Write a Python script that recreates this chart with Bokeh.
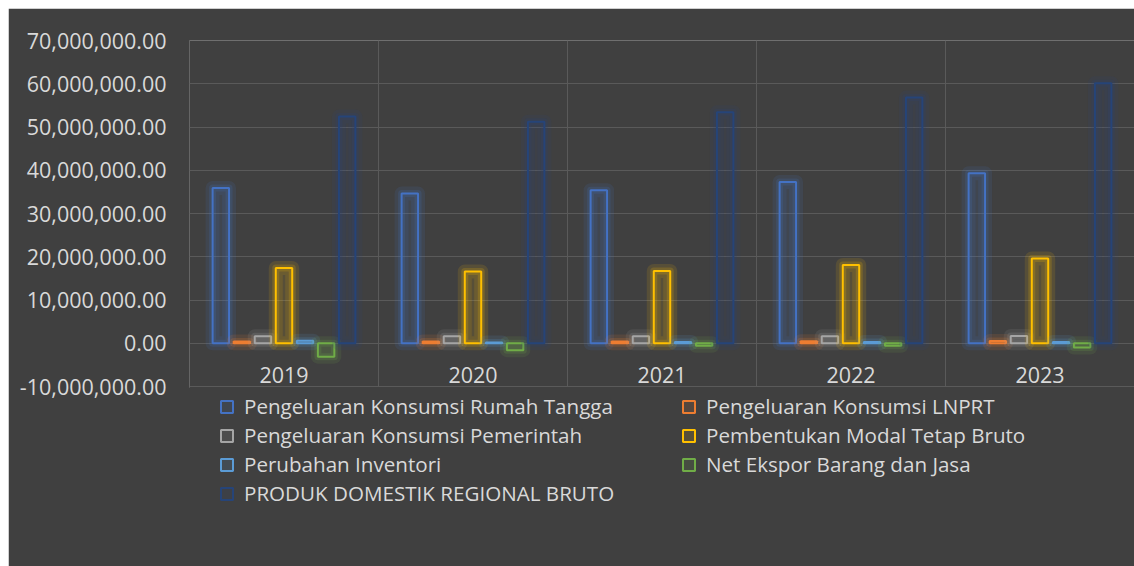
from bokeh.plotting import figure
from bokeh.models import (ColumnDataSource, Range1d, FixedTicker, NumeralTickFormatter,
                          Legend, LegendItem)
from bokeh.core.properties import value
from bokeh.embed import file_html
from bokeh.resources import INLINE

years = ["2019", "2020", "2021", "2022", "2023"]

series_names = [
    "Pengeluaran Konsumsi Rumah Tangga",
    "Pengeluaran Konsumsi LNPRT",
    "Pengeluaran Konsumsi Pemerintah",
    "Pembentukan Modal Tetap Bruto",
    "Perubahan Inventori",
    "Net Ekspor Barang dan Jasa",
    "PRODUK DOMESTIK REGIONAL BRUTO",
]

rumah_tangga = [35900000, 34600000, 35400000, 37300000, 39300000]
lnprt = [400000, 400000, 400000, 450000, 500000]
pemerintah = [1600000, 1600000, 1600000, 1600000, 1700000]
pmtb = [17400000, 16600000, 16700000, 18100000, 19600000]
inventori = [600000, 200000, 300000, 300000, 300000]
net_ekspor = [-3100000, -1600000, -600000, -600000, -1000000]
pdrb = [52400000, 51200000, 53400000, 56800000, 60100000]

y_ticks = [-10000000, 0, 10000000, 20000000, 30000000, 40000000, 50000000, 60000000, 70000000]

series_values = [rumah_tangga, lnprt, pemerintah, pmtb, inventori, net_ekspor, pdrb]
colors = ["#4472C4", "#ED7D31", "#A5A5A5", "#FFC000", "#5B9BD5", "#70AD47", "#264478"]

BG = "#404040"
GRID = "#5A5A5A"
TXT = "#D9D9D9"
FONT = "Open Sans"

W, H = 1126, 558
TOP, LEFT = 32, 181
AXIS_PX = 346  # pixel height of the -10M..70M value axis
frame_h = H - TOP
y_hi = y_ticks[-1]
y_lo_axis = y_ticks[0]
y_lo = y_hi - (y_hi - y_lo_axis) * frame_h / AXIS_PX

p = figure(width=W, height=H, output_backend="svg", toolbar_location=None,
           x_range=Range1d(0, len(years)), y_range=Range1d(y_lo, y_hi),
           background_fill_color=BG, border_fill_color=BG, outline_line_color=None,
           min_border_left=LEFT, min_border_right=0, min_border_top=TOP, min_border_bottom=0)
p.margin = (8, 0, 0, 8)

# grid
p.ygrid.ticker = FixedTicker(ticks=y_ticks)
p.ygrid.grid_line_color = GRID
p.ygrid.grid_line_width = 1
p.xgrid.visible = False
p.xgrid.grid_line_color = None
bounds = list(range(len(years) + 1))
p.segment(x0=bounds, x1=bounds, y0=[y_lo_axis] * len(bounds), y1=[y_hi] * len(bounds),
          line_color=GRID, line_width=1)

# axes
yaxis = p.yaxis[0]
yaxis.ticker = FixedTicker(ticks=y_ticks)
yaxis.bounds = (y_lo, y_lo_axis - 300000)
yaxis.formatter = NumeralTickFormatter(format="0,0.00")
yaxis.axis_line_color = BG
yaxis.axis_line_width = 4
yaxis.major_tick_line_color = None
yaxis.minor_tick_line_color = None
yaxis.major_tick_out = 0
yaxis.major_tick_in = 0
yaxis.minor_tick_out = 0
yaxis.minor_tick_in = 0
yaxis.major_label_standoff = 23
yaxis.major_label_text_color = TXT
yaxis.major_label_text_font = FONT
yaxis.major_label_text_font_size = "21.5px"
p.xaxis.visible = False

centers = [i + 0.5 for i in range(len(years))]
p.text(x=centers, y=[-7400000] * len(years), text=years,
       text_align="center", text_baseline="middle", text_color=TXT,
       text_font=value(FONT), text_font_size="21.5px")

step = 0.1114
bw = 0.087
main_renderers = []
for k, (name, vals, col) in enumerate(zip(series_names, series_values, colors)):
    xs = [c + (k - 3) * step for c in centers]
    src = ColumnDataSource(dict(x=xs, top=[max(v, 0) for v in vals], bottom=[min(v, 0) for v in vals]))
    # glow
    p.vbar(x="x", top="top", bottom="bottom", width=bw, source=src,
           fill_color=None, line_color=col, line_alpha=0.12, line_width=14, line_join="round")
    p.vbar(x="x", top="top", bottom="bottom", width=bw, source=src,
           fill_color=None, line_color=col, line_alpha=0.18, line_width=7, line_join="round")
    r = p.vbar(x="x", top="top", bottom="bottom", width=bw, source=src,
               fill_color=col, fill_alpha=0.12, line_color=col, line_width=2)
    main_renderers.append(r)

order = [0, 2, 4, 6, 1, 3, 5]
items = [LegendItem(label=series_names[i], renderers=[main_renderers[i]]) for i in order]
legend = Legend(items=items, nrows=4, location=(30, 59),
                background_fill_alpha=0, border_line_color=None,
                padding=0, margin=0, spacing=1,
                glyph_width=15, glyph_height=15, label_standoff=10, label_width=436,
                label_height=27,
                label_text_color=TXT, label_text_font=FONT, label_text_font_size="20.6px")
p.add_layout(legend, "center")

open("out.html", "w").write(file_html(p, INLINE))
